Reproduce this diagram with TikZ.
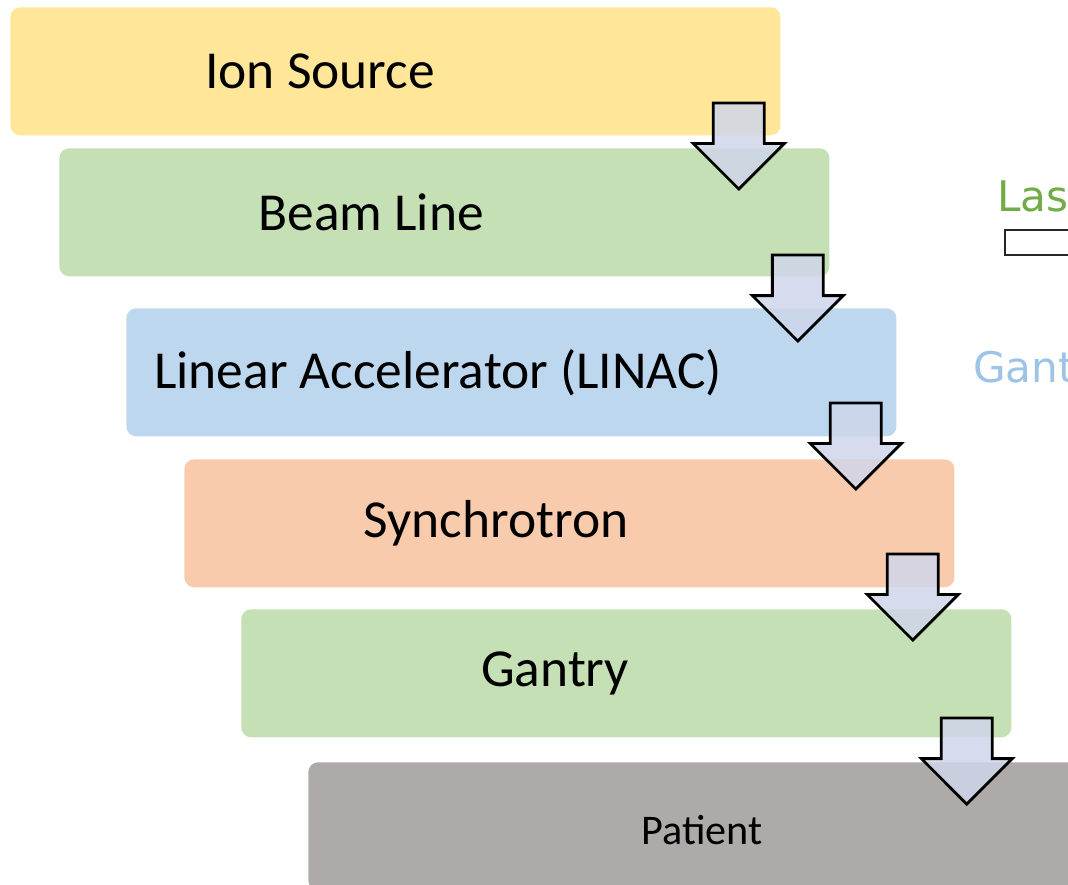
\documentclass[tikz,border=0pt]{standalone}
\usepackage{fontspec}
\setmainfont{Carlito}
\newfontfamily\sidefont{DejaVu Sans}
\usetikzlibrary{shapes.arrows,positioning}

\definecolor{ionyellow}{HTML}{FFE699}
\definecolor{linegreen}{HTML}{C5E0B4}
\definecolor{linacblue}{HTML}{BDD7EE}
\definecolor{synorange}{HTML}{F8CBAD}
\definecolor{patgray}{HTML}{AEAAAA}
\definecolor{arrowfill}{HTML}{CFD6EA}
\definecolor{lasergreen}{HTML}{70AD47}
\definecolor{gantryblue}{HTML}{9DC3E6}

\begin{document}
\begin{tikzpicture}[
	x=0.025cm, y=-0.025cm,
	stage/.style = {rectangle, rounded corners=0.25cm, inner sep=0pt,
		minimum width=19.25cm, minimum height=3.2cm, anchor=north west},
	stagelabel/.style = {font=\fontsize{38}{40}\selectfont, inner sep=0pt},
	flow/.style = {single arrow, draw=black, line width=2pt,
		fill=arrowfill, fill opacity=0.85, inner sep=0.6cm,
		minimum height=2.15cm,
		single arrow head extend=0.5cm, shape border rotate=270,
		anchor=tail},
	side/.style = {font=\sidefont\fontsize{30}{32}\selectfont,
		inner sep=0pt, anchor=base west},
	]
	\useasboundingbox (0,0) rectangle (1068,885);
	\clip (0,0) rectangle (1068,885);

	% the stages, one below the other
	\node[stage, fill=ionyellow] (ion) at (10,7) {};
	\node[stage, fill=linegreen] (beam) at (59,148) {};
	\node[stage, fill=linacblue] (linac) at (126,308) {};
	\node[stage, fill=synorange] (synchro) at (184,459) {};
	\node[stage, fill=linegreen] (gantry) at (241,609) {};
	\node[stage, fill=patgray, minimum width=20cm] (patient) at (308,762) {};

	\node[stagelabel] (ion-t) at ([xshift=7.75cm]ion.west) {Ion Source};
	\node[stagelabel] (beam-t) at ([xshift=7.8cm]beam.west) {Beam Line};
	\node[stagelabel] (linac-t) at ([xshift=7.8cm]linac.west) {Linear Accelerator (LINAC)};
	\node[stagelabel] (synchro-t) at ([xshift=7.8cm]synchro.west) {Synchrotron};
	\node[stagelabel] (gantry-t) at ([xshift=7.85cm]gantry.west) {Gantry};
	\node[stagelabel, font=\fontsize{30}{32}\selectfont] (patient-t) at (702,830) {Patient};

	% block arrows from one stage to the next
	\node[flow] (a1) at ([xshift=-1.05cm, yshift=0.85cm]ion.south east) {};
	\node[flow] (a2) at ([xshift=-0.8cm, yshift=0.575cm]beam.south east) {};
	\node[flow] (a3) at ([xshift=-1.025cm, yshift=0.875cm]linac.south east) {};
	\node[flow] (a4) at ([xshift=-1.05cm, yshift=0.875cm]synchro.south east) {};
	\node[flow] (a5) at ([xshift=-1.125cm, yshift=0.525cm]gantry.south east) {};

	% bits of the next panel
	\node[side, text=lasergreen] (laser) at (997,212) {Las};
	\node[draw=black!85, line width=1.2pt, fill=white, inner sep=0pt,
		minimum width=2cm, minimum height=0.63cm, anchor=north west]
		(laserbox) at (1004,229) {};
	\node[side, text=gantryblue] (gant) at (973,383) {Gant};
\end{tikzpicture}
\end{document}
